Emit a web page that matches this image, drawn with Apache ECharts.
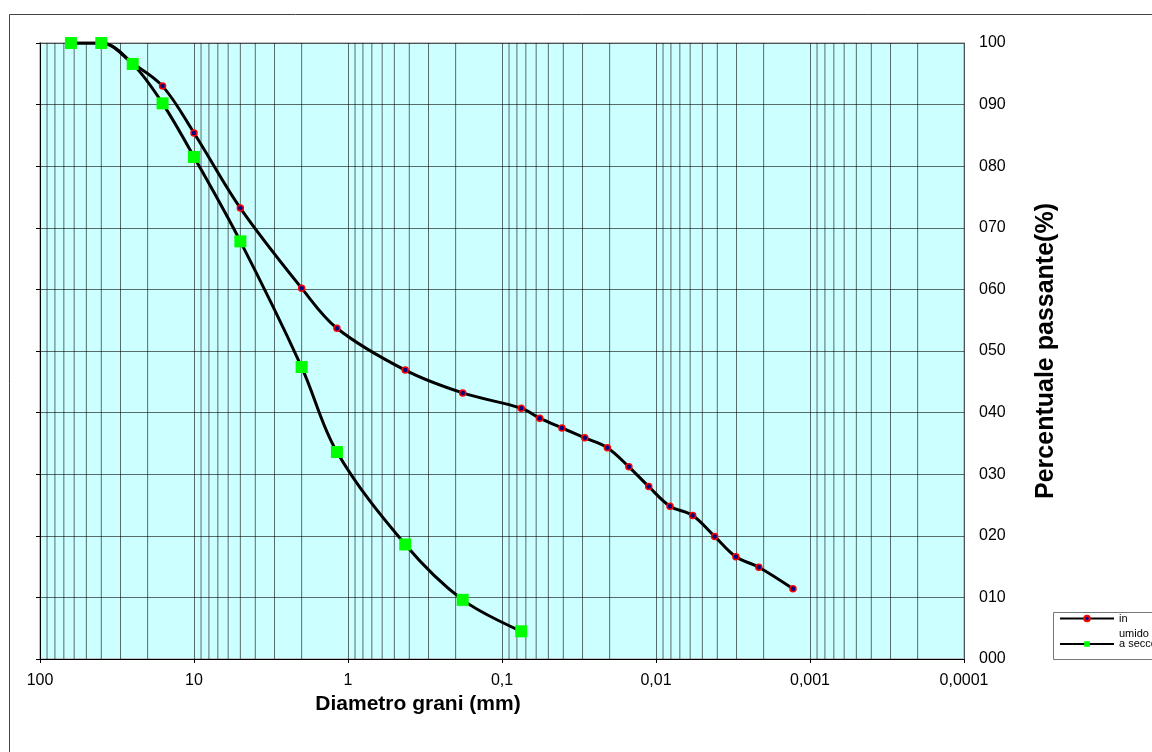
<!DOCTYPE html>
<html>
<head>
<meta charset="utf-8">
<script src="https://cdn.jsdelivr.net/npm/echarts@6/dist/echarts.min.js"></script>
<style>
html,body{margin:0;padding:0;background:#fff;}
#chart{width:1152px;height:752px;}
</style>
</head>
<body>
<div id="chart"></div>
<script>
// ---- data ----
const wetDiam = [63, 40, 25, 16, 10, 5, 2, 1.18, 0.425, 0.18, 0.075, 0.0569, 0.0408, 0.0290, 0.0207, 0.0150, 0.01115, 0.00811, 0.00578, 0.00416, 0.00303, 0.00215, 0.00129];
const wetPass = [100, 100, 96.7, 93.0, 85.4, 73.2, 60.2, 53.7, 46.9, 43.2, 40.7, 39.1, 37.5, 35.9, 34.3, 31.2, 28.0, 24.8, 23.3, 19.9, 16.6, 14.9, 11.4];
const dryDiam = [63, 40, 25, 16, 10, 5, 2, 1.18, 0.425, 0.18, 0.075];
const dryPass = [100, 100, 96.6, 90.2, 81.5, 67.8, 47.4, 33.6, 18.6, 9.6, 4.5];
const seriesNames = ['in umido', 'a secco'];
const xTickLabels = {'100':'100','10':'10','1':'1','0.1':'0,1','0.01':'0,01','0.001':'0,001','0.0001':'0,0001'};
const decades = [0.0001, 0.001, 0.01, 0.1, 1, 10];
const minorMult = [2, 3, 4, 5, 6, 7, 8, 9];

// minor log gridlines (2..9 x 10^k), drawn as broken vertical segments through the axes
const minorGrid = [];
decades.forEach(d => minorMult.forEach(m => {
  const v = +(d * m).toPrecision(6);
  minorGrid.push([v, 0], [v, 100], [v, '-']);
}));

const FONT = '"Liberation Sans", Arial, sans-serif';
const gridColor = 'rgba(0,0,0,0.58)';

const chart = echarts.init(document.getElementById('chart'));
chart.setOption({
  animation: false,
  backgroundColor: '#ffffff',
  textStyle: {fontFamily: FONT},
  grid: {left: 40, right: 188, top: 43, bottom: 93, show: true, backgroundColor: '#ccffff', borderColor: '#c0c0c0', borderWidth: 2},
  xAxis: {
    type: 'log', logBase: 10, min: 0.0001, max: 100, inverse: true,
    axisLine: {show: true, lineStyle: {color: '#000', width: 1}},
    axisTick: {show: true, length: 4, lineStyle: {color: '#000'}},
    axisLabel: {fontSize: 16, color: '#000', fontFamily: FONT, margin: 14,
      formatter: v => { const k = String(+v.toPrecision(6)); return xTickLabels[k] !== undefined ? xTickLabels[k] : k; }},
    splitLine: {show: true, lineStyle: {color: gridColor, width: 1}},
    name: 'Diametro grani (mm)', nameLocation: 'middle', nameGap: 27,
    nameTextStyle: {fontSize: 21, fontWeight: 'bold', color: '#000', fontFamily: FONT, padding: [0, 168, 0, 0]}
  },
  yAxis: [{
    type: 'value', min: 0, max: 100, interval: 10, position: 'left',
    axisLine: {show: true, lineStyle: {color: '#000', width: 1}},
    axisTick: {show: true, length: 4, lineStyle: {color: '#000'}},
    axisLabel: {show: false},
    splitLine: {show: true, lineStyle: {color: gridColor, width: 1}}
  }, {
    type: 'value', min: 0, max: 100, interval: 10, position: 'right',
    axisLine: {show: false}, axisTick: {show: false},
    axisLabel: {fontSize: 16, color: '#000', fontFamily: FONT, margin: 15,
      formatter: v => String(Math.round(v)).padStart(3, '0')},
    splitLine: {show: false},
    name: 'Percentuale passante(%)', nameLocation: 'middle', nameGap: 70,
    nameTextStyle: {fontSize: 25, fontWeight: 'bold', color: '#000', fontFamily: FONT}
  }],
  legend: {
    orient: 'vertical', left: 1059, top: 598, itemGap: -2, padding: 0,
    itemWidth: 54, itemHeight: 7,
    data: seriesNames,
    textStyle: {fontSize: 11, color: '#000', fontFamily: FONT, lineHeight: 14,
      rich: {p: {fontSize: 11, lineHeight: 15, padding: [15, 0, 0, 0]}}},
    formatter: n => n === 'in umido' ? '{p|in\numido}' : n,
  },
  graphic: [
    {type: 'rect', shape: {x: 9.5, y: 14.5, width: 1200, height: 800}, style: {fill: 'none', stroke: '#444', lineWidth: 1}, silent: true, z: -10},
    {type: 'rect', shape: {x: 1053.5, y: 612.5, width: 120, height: 47}, style: {fill: '#fff', stroke: '#777', lineWidth: 1}, silent: true, z: -1}
  ],
  series: [
    {
      name: 'minor-grid', type: 'line', data: minorGrid, silent: true,
      showSymbol: false, symbol: 'none', connectNulls: false,
      lineStyle: {color: gridColor, width: 1}, z: 1
    },
    {
      name: seriesNames[0], type: 'line', smooth: 0.35,
      data: wetDiam.map((d, i) => [d, wetPass[i]]),
      symbol: 'circle', symbolSize: 6,
      itemStyle: {color: '#000080', borderColor: '#ff0000', borderWidth: 1.5},
      lineStyle: {color: '#000', width: 3}, z: 3
    },
    {
      name: seriesNames[1], type: 'line', smooth: 0.35,
      data: dryDiam.map((d, i) => [d, dryPass[i]]),
      symbol: 'rect', symbolSize: 12,
      itemStyle: {color: '#00ff00'},
      lineStyle: {color: '#000', width: 3}, z: 4
    }
  ]
});
</script>
</body>
</html>
